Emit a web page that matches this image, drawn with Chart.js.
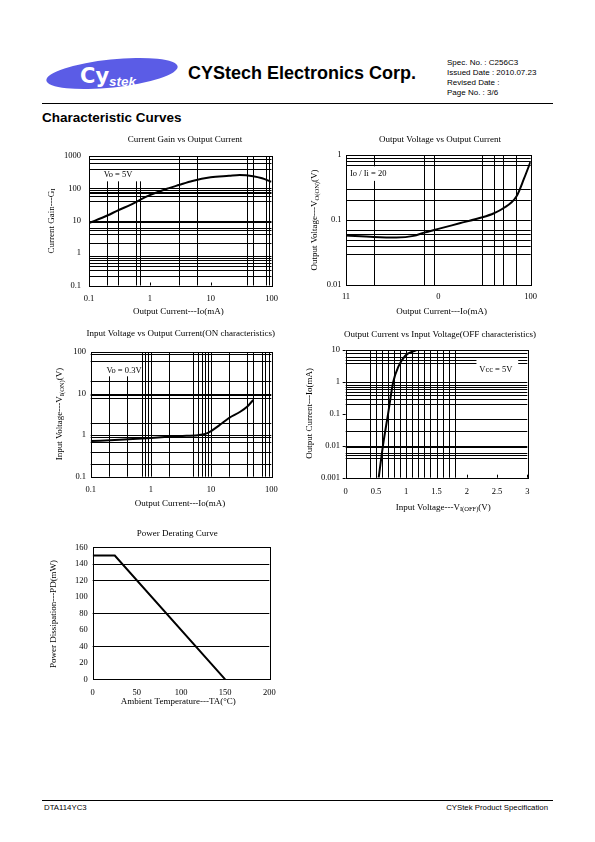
<!DOCTYPE html>
<html>
<head>
<meta charset="utf-8">
<script src="https://cdn.jsdelivr.net/npm/chart.js@4.4.0/dist/chart.umd.min.js"></script>
<style>
  body { margin: 0; background: #fff; }
  #page { position: relative; width: 595px; height: 842px; overflow: hidden; }
  #sheet { position: absolute; left: 0; top: 0; }
  canvas { position: absolute; }
</style>
</head>
<body>
<div id="page">
  <svg id="sheet" width="595" height="842" font-family="'Liberation Sans', Arial, sans-serif">
    <ellipse cx="112" cy="73.5" rx="66" ry="14" fill="#5b5ce6" transform="rotate(-6 112 73.5)"/>
    <text x="80" y="83" font-family="'DejaVu Sans', sans-serif" font-weight="bold" font-size="21" fill="#fff">Cy</text>
    <text x="109" y="85.5" font-weight="bold" font-style="italic" font-size="13.5" fill="#fff">stek</text>
    <text x="188" y="78.5" font-size="18" font-weight="bold">CYStech Electronics Corp.</text>
    <text x="447" y="65" font-size="8">Spec. No. : C256C3</text>
    <text x="447" y="75" font-size="8">Issued Date : 2010.07.23</text>
    <text x="447" y="85" font-size="8">Revised Date :</text>
    <text x="447" y="95" font-size="8">Page No. : 3/6</text>
    <line x1="42" y1="103.5" x2="553" y2="103.5" stroke="#000" stroke-width="1.2"/>
    <text x="42" y="121.5" font-size="13.5" font-weight="bold">Characteristic Curves</text>
    <line x1="42" y1="800.5" x2="553" y2="800.5" stroke="#000" stroke-width="1.2"/>
    <text x="44" y="809.5" font-size="7.8">DTA114YC3</text>
    <text x="548" y="809.5" font-size="7.8" text-anchor="end">CYStek Product Specification</text>
  </svg>
  <canvas id="cGain" width="255" height="195" style="left:40px;top:130px"></canvas>
  <canvas id="cSat" width="255" height="195" style="left:300px;top:130px"></canvas>
  <canvas id="cOn" width="255" height="195" style="left:40px;top:320px"></canvas>
  <canvas id="cOff" width="255" height="195" style="left:300px;top:320px"></canvas>
  <canvas id="cPow" width="255" height="195" style="left:40px;top:520px"></canvas>
</div>

<script>
const SERIF = '"Liberation Serif", "Times New Roman", serif';

// 1. current gain vs output current
const gainIo  = [0.1, 0.2, 0.3, 0.5, 0.7, 1, 2, 3, 5, 10, 20, 30, 50, 70, 100];
const gainHfe = [8.5, 14.5, 21, 32, 45, 62, 100, 127, 170, 220, 245, 260, 238, 205, 160];
const gainTicksX = [0.1, 1, 10, 100];
const gainTicksY = [0.1, 1, 10, 100, 1000];
const gainGridX = [0.2, 0.3, 0.6, 0.7, 3, 6, 40, 50, 80, 90];
const gainGridY = [800, 600, 400, 100, 90, 80, 70, 60, 40, 10, 9, 6, 5, 4, 2, 0.8, 0.7, 0.6, 0.5, 0.4, 0.3, 0.2];

// 2. output voltage vs output current
const satIo = [1, 2, 3.5, 5.4, 7, 10, 17, 30, 40, 50, 70, 85, 100];
const satVo = [0.058, 0.055, 0.054, 0.057, 0.064, 0.073, 0.089, 0.11, 0.127, 0.15, 0.23, 0.44, 0.8];
const satTicksX = [1, 10, 100];
const satLabelsX = ['11', '0', '100'];
const satTicksY = [0.01, 0.1, 1];
const satGridX = [2, 7, 9, 30, 40, 50, 70];
const satGridY = [0.9, 0.8, 0.7, 0.3, 0.2, 0.1, 0.07, 0.06, 0.05, 0.04, 0.03];

// 3. input voltage vs output current (ON)
const onIo = [0.1, 0.3, 1, 3, 6, 8, 10, 15, 20, 30, 40, 50];
const onVi = [0.72, 0.77, 0.85, 0.95, 1.0, 1.07, 1.25, 1.9, 2.6, 3.6, 4.9, 7.0];
const onTicksX = [0.1, 1, 10, 100];
const onTicksY = [0.1, 1, 10, 100];
const onGridX = [0.2, 0.4, 0.7, 0.8, 0.9, 1, 2, 5, 6, 7, 8, 9, 10, 20, 40, 50, 70, 80, 90];
const onGridY = [90, 60, 20, 10, 9, 8, 2, 1, 0.9, 0.7, 0.4, 0.2];

// 4. output current vs input voltage (OFF)
const offVi = [0.545, 0.615, 0.70, 0.785, 0.87, 0.98, 1.17];
const offIo = [0.001, 0.01, 0.1, 1, 3, 6.5, 10];
const offTicksX = [0, 0.5, 1, 1.5, 2, 2.5, 3];
const offTicksY = [0.001, 0.01, 0.1, 1, 10];
const offGridX = [0.4, 0.5, 0.6, 0.7, 0.8, 0.9, 1.0, 1.1, 1.2, 1.3, 1.4, 1.5, 1.6, 1.7, 1.8];
const offGridY = [8, 6, 5, 4, 1, 0.8, 0.7, 0.6, 0.5, 0.4, 0.3, 0.2, 0.07, 0.03, 0.01, 0.009, 0.006, 0.005, 0.004];

// 5. power derating
const powTa = [0, 25, 150];
const powPd = [150, 150, 0];
const powTicksX = [0, 50, 100, 150, 200];
const powTicksY = [0, 20, 40, 60, 80, 100, 120, 140, 160];
const powGridY = [40, 80, 120, 140];

function richText(ctx, parts, cx, cy, vertical) {
    ctx.save();
    ctx.translate(cx, cy);
    if (vertical) ctx.rotate(-Math.PI / 2);
    const fontOf = sub => (sub ? 6.5 : 9) + 'px ' + SERIF;
    let w = 0;
    parts.forEach(([t, sub]) => { ctx.font = fontOf(sub); w += ctx.measureText(t).width; });
    let x = -w / 2;
    ctx.fillStyle = '#000';
    ctx.textAlign = 'left';
    ctx.textBaseline = 'middle';
    parts.forEach(([t, sub]) => {
        ctx.font = fontOf(sub);
        ctx.fillText(t, x, sub ? 2 : 0);
        x += ctx.measureText(t).width;
    });
    ctx.restore();
}

// grid lines, frame, label and titles in the datasheet style
const sheetLines = {
    id: 'sheetLines',
    beforeDatasetsDraw(chart, args, o) {
        const { ctx, chartArea: a, scales: { x, y } } = chart;
        const px = v => Math.round(x.getPixelForValue(v)) + 0.5;
        const py = v => Math.round(y.getPixelForValue(v)) + 0.5;
        const line = (x0, y0, x1, y1) => { ctx.beginPath(); ctx.moveTo(x0, y0); ctx.lineTo(x1, y1); ctx.stroke(); };
        const wipe = () => {
            if (!o.cut) return;
            const x0 = x.getPixelForValue(o.cut.x[0]), x1 = x.getPixelForValue(o.cut.x[1]);
            const y0 = Math.max(y.getPixelForValue(o.cut.y[1]), a.top + 1), y1 = y.getPixelForValue(o.cut.y[0]);
            ctx.fillStyle = '#fff';
            ctx.fillRect(x0, y0, x1 - x0, y1 - y0);
        };
        ctx.save();
        ctx.strokeStyle = '#000';
        ctx.lineWidth = 1;
        (o.gridX || []).forEach(v => line(px(v), a.top, px(v), a.bottom));
        if (o.cut && o.cut.keepH) wipe();
        (o.gridY || []).forEach(v => line(a.left, py(v), a.right, py(v)));
        if (o.cut && !o.cut.keepH) wipe();
        (o.marksX || []).forEach(v => line(px(v), a.bottom, px(v), a.bottom - 3));
        (o.marksY || []).forEach(v => line(a.left, py(v), a.left - 3, py(v)));
        ctx.strokeRect(Math.round(a.left) + 0.5, Math.round(a.top) + 0.5,
            Math.round(a.right - a.left), Math.round(a.bottom - a.top));
        ctx.restore();
    },
    afterDraw(chart, args, o) {
        const { ctx, scales: { x, y } } = chart;
        if (o.note) {
            ctx.save();
            ctx.font = '8.5px ' + SERIF;
            ctx.fillStyle = '#000';
            ctx.textAlign = 'center';
            ctx.textBaseline = 'middle';
            ctx.fillText(o.note.text, x.getPixelForValue(o.note.x), y.getPixelForValue(o.note.y));
            ctx.restore();
        }
        if (o.title) richText(ctx, [[o.title.text]], o.title.at[0], o.title.at[1], false);
        if (o.xTitle) richText(ctx, o.xTitle.parts, o.xTitle.at[0], o.xTitle.at[1], false);
        if (o.yTitle) richText(ctx, o.yTitle.parts, o.yTitle.at[0], o.yTitle.at[1], true);
    }
};
Chart.register(sheetLines);

// size = room the axis takes outside the plot box (labels + title live in it)
function axis(type, ticks, labels, pad, size) {
    return {
        type: type,
        min: ticks[0],
        max: ticks[ticks.length - 1],
        grid: { display: false, drawTicks: false },
        border: { display: false },
        afterBuildTicks: s => { s.ticks = ticks.map(v => ({ value: v })); },
        afterFit: s => { if (s.isHorizontal()) s.height = size; else s.width = size; },
        ticks: {
            autoSkip: false, maxRotation: 0, padding: pad, color: '#000',
            font: { family: SERIF, size: 8.5 },
            callback: (v, i) => labels[i]
        }
    };
}

function sheetChart(id, xs, ys, smooth, scaleX, scaleY, padding, marks) {
    return new Chart(document.getElementById(id), {
        type: 'scatter',
        data: {
            datasets: [{
                data: xs.map((v, i) => ({ x: v, y: ys[i] })),
                showLine: true,
                borderColor: '#000',
                borderWidth: 2,
                pointRadius: 0,
                cubicInterpolationMode: smooth ? 'monotone' : 'default',
                tension: 0
            }]
        },
        options: {
            responsive: false,
            animation: false,
            devicePixelRatio: 1,
            layout: { padding: padding },
            scales: { x: scaleX, y: scaleY },
            plugins: { legend: { display: false }, tooltip: { enabled: false }, sheetLines: marks }
        }
    });
}

const str = arr => arr.map(String);

sheetChart('cGain', gainIo, gainHfe, true,
    axis('logarithmic', gainTicksX, str(gainTicksX), 8, 39.5),
    axis('logarithmic', gainTicksY, str(gainTicksY), 8, 49),
    { left: 0, top: 26, right: 23.5, bottom: 0 },
    {
        gridX: gainGridX, gridY: gainGridY, marksX: [1, 10],
        cut: { x: [0.15, 0.75], y: [165, 1000], keepH: true },
        note: { text: 'Vo = 5V', x: 0.3, y: 264 },
        title: { text: 'Current Gain vs Output Current', at: [145, 10] },
        xTitle: { parts: [['Output Current---Io(mA)']], at: [138.3, 182] },
        yTitle: { parts: [['Current Gain---G'], ['I', true]], at: [11.7, 91] }
    });

sheetChart('cSat', satIo, satVo, true,
    axis('logarithmic', satTicksX, satLabelsX, 7, 40),
    axis('logarithmic', satTicksY, str(satTicksY), 4.5, 46),
    { left: 0, top: 25, right: 24.3, bottom: 0 },
    {
        gridX: satGridX, gridY: satGridY,
        cut: { x: [1.22, 2.71], y: [0.4, 0.67], keepH: true },
        note: { text: 'Io / Ii = 20', x: 1.74, y: 0.52 },
        title: { text: 'Output Voltage vs Output Current', at: [140, 10] },
        xTitle: { parts: [['Output Current---Io(mA)']], at: [141.7, 181.7] },
        yTitle: { parts: [['Output Voltage---V'], ['O(ON)', true], ['(V)']], at: [15, 90] }
    });

sheetChart('cOn', onIo, onVi, true,
    axis('logarithmic', onTicksX, str(onTicksX), 8, 38.3),
    axis('logarithmic', onTicksY, str(onTicksY), 4.7, 50.7),
    { left: 0, top: 32, right: 23.7, bottom: 0 },
    {
        gridX: onGridX, gridY: onGridY,
        cut: { x: [0.15, 0.6], y: [26, 100], keepH: true },
        note: { text: 'Vo = 0.3V', x: 0.357, y: 35.5 },
        title: { text: 'Input Voltage vs Output Current(ON characteristics)', at: [140.7, 14] },
        xTitle: { parts: [['Output Current---Io(mA)']], at: [140, 183.3] },
        yTitle: { parts: [['Input Voltage---V'], ['I(ON)', true], ['(V)']], at: [20, 94] }
    });

sheetChart('cOff', offVi, offIo, true,
    axis('linear', offTicksX, str(offTicksX), 9, 37.3),
    axis('logarithmic', offTicksY, str(offTicksY), 5.7, 45.7),
    { left: 0, top: 30, right: 27.7, bottom: 0 },
    {
        gridX: offGridX, gridY: offGridY, marksX: offTicksX, marksY: offTicksY,
        cut: { x: [2.16, 2.85], y: [1.6, 5.6], keepH: false },
        note: { text: 'Vcc = 5V', x: 2.48, y: 2.49 },
        title: { text: 'Output Current vs Input Voltage(OFF characteristics)', at: [140, 15] },
        xTitle: { parts: [['Input Voltage---V'], ['I(OFF)', true], ['(V)']], at: [143.3, 187.3] },
        yTitle: { parts: [['Output Current---Io(mA)']], at: [10, 93.3] }
    });

sheetChart('cPow', powTa, powPd, false,
    axis('linear', powTicksX, str(powTicksX), 8, 35.7),
    axis('linear', powTicksY, str(powTicksY), 5, 52.7),
    { left: 0, top: 27.3, right: 25.7, bottom: 0 },
    {
        gridY: powGridY,
        title: { text: 'Power Derating Curve', at: [137.3, 14] },
        xTitle: { parts: [['Ambient Temperature---TA(°C)']], at: [138.3, 181.7] },
        yTitle: { parts: [['Power Dissipation---PD(mW)']], at: [13.3, 94] }
    });
</script>
</body>
</html>
